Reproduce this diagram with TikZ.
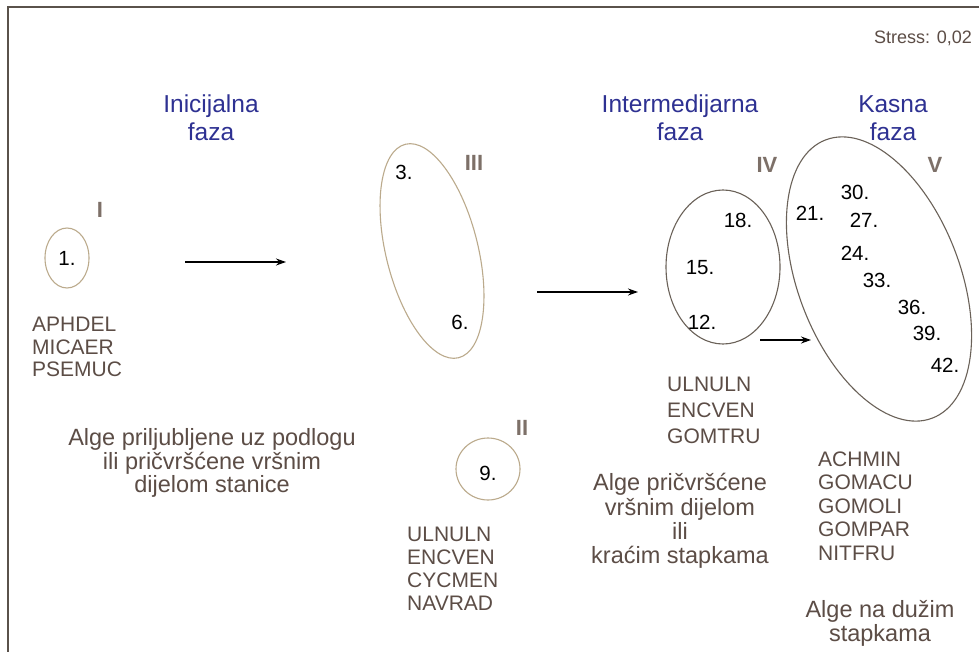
\documentclass[tikz,border=0pt]{standalone}
\usepackage{fontspec}
\setmainfont{Liberation Sans}
\usetikzlibrary{shapes.geometric,arrows.meta}
\definecolor{txt}{HTML}{5C4D46}
\definecolor{roman}{HTML}{7D7068}
\definecolor{blu}{HTML}{2E3192}
\definecolor{tan}{HTML}{BBAA8C}
\definecolor{dk}{HTML}{6B6259}
\definecolor{frame}{HTML}{5A524B}
\tikzset{
  lbl/.style={text=txt, inner sep=0pt},
  lst/.style={lbl, anchor=west, align=left, font=\fontsize{21}{23}\selectfont},
  desc/.style={lbl, align=center, font=\fontsize{23.5}{24}\selectfont},
  ttl/.style={text=blu, font=\fontsize{24.5}{28}\selectfont, align=center, inner sep=0pt},
  num/.style={text=black, font=\fontsize{20.5}{22}\selectfont, inner sep=0pt},
  rom/.style={text=roman, font=\fontsize{22}{24}\selectfont\bfseries, inner sep=0pt},
  lightell/.style={draw=tan, line width=1.1pt},
  darkell/.style={draw=dk, line width=1.1pt},
  arr/.style={-{Stealth[length=10pt,width=7pt]}, line width=1.2pt, black}
}
\begin{document}
\begin{tikzpicture}[x=1pt,y=-1pt]
\useasboundingbox (0,0) rectangle (979,652);
\fill[white] (0,0) rectangle (979,652);
\draw[frame, line width=1.3pt] (8,652) -- (8,7) -- (979,7);

\node[text=txt, font=\fontsize{18}{20}\selectfont, inner sep=0pt] (stress) at (923,38) {Stress: 0,02};

\node[ttl] (t1) at (211,118) {Inicijalna\\faza};
\node[ttl] (t2) at (680,118) {Intermedijarna\\faza};
\node[ttl] (t3) at (893,118) {Kasna\\faza};

% I
\node[rom] (rI) at (100,210) {I};
\draw[lightell] (67,258) ellipse [x radius=22, y radius=30];
\node[num] (n1) at (67,258) {1.};
\node[lst, font=\fontsize{21}{22.5}\selectfont] (l1) at (32,347) {APHDEL\\MICAER\\PSEMUC};
\node[desc, font=\fontsize{23.5}{23.5}\selectfont] (d1) at (212,463) {Alge priljubljene uz podlogu\\ili pričvršćene vršnim\\dijelom stanice};

\coordinate (a1s) at (185,262);
\coordinate (a1e) at (286,262);
\draw[arr] (a1s) -- (a1e);

% III
\draw[lightell, rotate around={14:(432,251)}] (432,251) ellipse [x radius=46, y radius=110];
\node[num] (n3) at (404,172) {3.};
\node[num] (n6) at (460,322) {6.};
\node[rom] (rIII) at (474,163) {III};

% II
\draw[lightell] (488,469) ellipse [x radius=32, y radius=31];
\node[num] (n9) at (488,473) {9.};
\node[rom] (rII) at (522,428) {II};
\node[lst] (l2) at (407,569) {ULNULN\\ENCVEN\\CYCMEN\\NAVRAD};

\coordinate (a2s) at (537,292);
\coordinate (a2e) at (638,292);
\draw[arr] (a2s) -- (a2e);

% IV
\draw[darkell] (723,267) ellipse [x radius=57, y radius=77];
\node[num] (n18) at (738,220) {18.};
\node[num] (n15) at (700,268) {15.};
\node[num] (n12) at (702,322) {12.};
\node[rom] (rIV) at (767,165) {IV};
\node[lst, font=\fontsize{21}{26}\selectfont] (l4) at (667,410) {ULNULN\\ENCVEN\\GOMTRU};
\node[desc, font=\fontsize{23.5}{24.3}\selectfont] (d4) at (680,521) {Alge pričvršćene\\vršnim dijelom\\ili\\kraćim stapkama};

\coordinate (a3s) at (760,340);
\coordinate (a3e) at (811,340);
\draw[arr] (a3s) -- (a3e);

% V
\draw[darkell, rotate around={21:(879,279)}] (879,279) ellipse [x radius=81, y radius=149];
\node[num] (n30) at (855,192) {30.};
\node[num] (n21) at (810,213) {21.};
\node[num] (n27) at (864,220) {27.};
\node[num] (n24) at (855,253) {24.};
\node[num] (n33) at (877,280) {33.};
\node[num] (n36) at (912,307) {36.};
\node[num] (n39) at (927,333) {39.};
\node[num] (n42) at (945,365) {42.};
\node[rom] (rV) at (935,165) {V};
\node[lst, font=\fontsize{21}{23.5}\selectfont] (l5) at (818,506) {ACHMIN\\GOMACU\\GOMOLI\\GOMPAR\\NITFRU};
\node[desc] (d5) at (880,623) {Alge na dužim\\stapkama};
\end{tikzpicture}
\end{document}
